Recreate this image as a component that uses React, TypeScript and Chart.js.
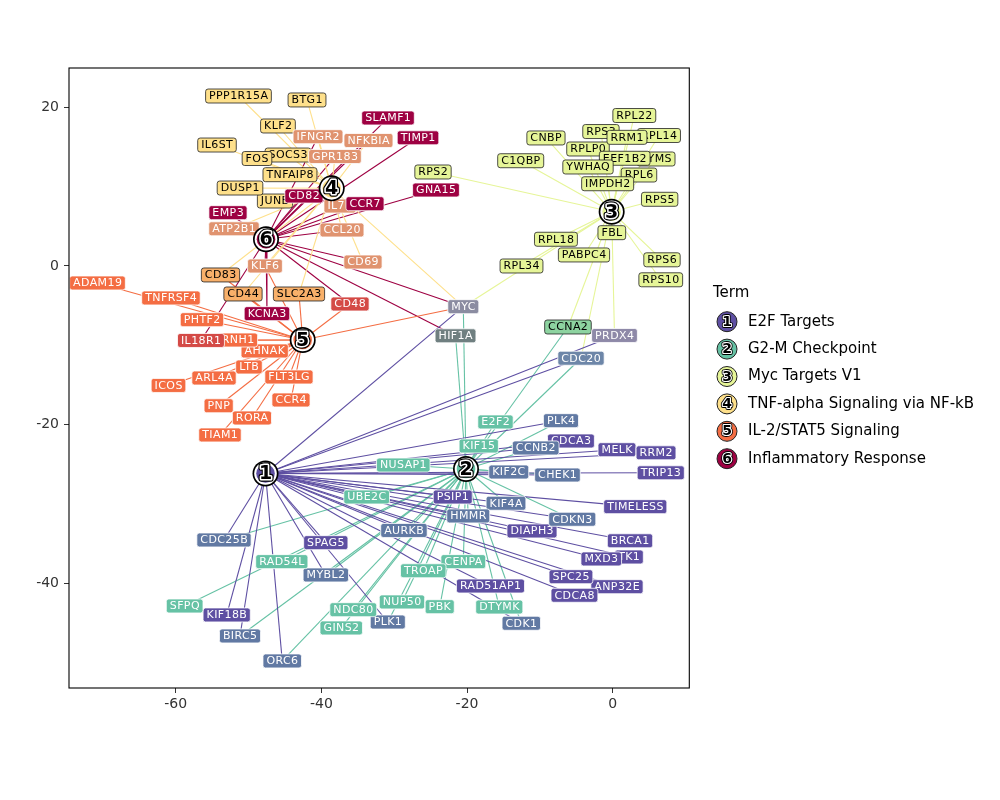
import React, { useEffect, useRef } from "react";
import { Chart, registerables } from "chart.js";
Chart.register(...registerables);

// ---- Terms ----
const termNames = [
  "E2F Targets",
  "G2-M Checkpoint",
  "Myc Targets V1",
  "TNF-alpha Signaling via NF-kB",
  "IL-2/STAT5 Signaling",
  "Inflammatory Response",
];
const termColors = ["#5E4FA2", "#66C2A5", "#E6F598", "#FEE08B", "#F46D43", "#9E0142"];
const termX = [-47.67, -20.14, -0.14, -38.58, -42.56, -47.6];
const termY = [-26.16, -25.59, 6.84, 9.79, -9.33, 3.37];

// ---- Genes (drawing order) ----
const geneNames = [
  "TK1", "MXD3", "ANP32E", "SPC25", "CDCA3", "CCNB2", "CENPA", "TROAP",
  "MELK", "RRM2", "TRIP13", "PSIP1", "TIMELESS", "DIAPH3", "BRCA1", "RAD51AP1",
  "CDCA8", "SPAG5", "KIF18B", "PLK4", "KIF2C", "CHEK1", "KIF4A", "HMMR",
  "AURKB", "CDKN3", "CDC25B", "MYBL2", "BIRC5", "ORC6", "CDK1", "PLK1",
  "E2F2", "KIF15", "NUSAP1", "UBE2C", "RAD54L", "SFPQ", "NUP50", "PBK",
  "NDC80", "GINS2", "DTYMK",
  "MYC", "HIF1A", "CCNA2", "PRDX4", "CDC20",
  "RPS3", "RPL14", "RPLP0", "TYMS", "RPL6", "RRM1", "EEF1B2", "YWHAQ",
  "IMPDH2", "RPL22", "CNBP", "C1QBP", "RPS5", "FBL", "RPL18", "PABPC4",
  "RPL34", "RPS6", "RPS10", "RPS2",
  "PPP1R15A", "BTG1", "KLF2", "IL6ST", "SOCS3", "FOS", "TNFAIP8", "JUNB",
  "DUSP1", "IFNGR2", "NFKBIA", "GPR183", "IL7R", "CCL20", "CD69", "KLF6",
  "ATP2B1", "CD83", "CD44", "SLC2A3", "SLAMF1", "TIMP1", "GNA15", "CCR7",
  "CD82", "EMP3", "KCNA3", "ADAM19", "TNFRSF4", "PHTF2", "AHNAK", "RNH1",
  "IL18R1", "CD48", "LTB", "ARL4A", "ICOS", "FLT3LG", "PNP", "CCR4",
  "RORA", "TIAM1",
];
const geneX = [
  2.24, -1.57, 0.59, -5.73, -5.73, -10.57, -20.51, -26.01,
  0.59, 5.95, 6.6, -21.96, 3.1, -11.08, 2.38, -16.78,
  -5.25, -39.39, -53.0, -7.1, -14.27, -7.58, -14.65, -19.83,
  -28.66, -5.55, -53.37, -39.39, -51.17, -45.37, -12.55, -30.88,
  -16.09, -18.39, -28.75, -33.78, -45.43, -58.77, -28.93, -23.75,
  -35.62, -37.27, -15.57,
  -20.51, -21.58, -6.14, 0.25, -4.35,
  -1.61, 6.36, -3.39, 5.95, 3.61, 1.96, 1.65, -3.39,
  -0.69, 2.97, -9.16, -12.63, 6.45, -0.12, -7.79, -3.94,
  -12.52, 6.77, 6.6, -24.67,
  -51.38, -41.97, -45.96, -54.33, -44.58, -48.84, -44.31, -46.37,
  -51.17, -40.46, -33.53, -38.13, -37.44, -37.17, -34.29, -47.74,
  -52.0, -53.85, -50.76, -43.07, -30.85, -26.73, -24.26, -34.01,
  -42.39, -52.82, -47.47, -70.74, -60.65, -56.39, -47.78, -51.45,
  -56.53, -36.07, -49.94, -54.74, -60.99, -44.45, -54.1, -44.17,
  -49.53, -53.92,
];
const geneY = [
  -36.68, -36.93, -40.43, -39.17, -22.06, -22.94, -37.27, -38.42,
  -23.16, -23.55, -26.07, -29.12, -30.34, -33.4, -34.64, -40.34,
  -41.51, -34.88, -43.99, -19.5, -25.97, -26.35, -29.91, -31.51,
  -33.34, -31.93, -34.54, -38.95, -46.64, -49.79, -45.04, -44.88,
  -19.66, -22.69, -25.09, -29.12, -37.27, -42.86, -42.35, -42.95,
  -43.33, -45.63, -42.99,
  -5.13, -8.8, -7.69, -8.76, -11.63,
  16.95, 16.45, 14.75, 13.49, 11.47, 16.22, 13.58, 12.48,
  10.37, 18.97, 16.14, 13.27, 8.41, 4.2, 3.37, 1.39,
  0.0, 0.78, -1.74, 11.85,
  21.43, 20.93, 17.65, 15.25, 13.99, 13.55, 11.51, 8.19,
  9.83, 16.3, 15.82, 13.8, 7.56, 4.54, 0.5, 0.0,
  4.69, -1.13, -3.53, -3.53, 18.66, 16.16, 9.58, 7.85,
  8.82, 6.72, -6.01, -2.14, -4.03, -6.77, -10.71, -9.33,
  -9.39, -4.79, -12.73, -14.12, -15.06, -13.99, -17.62, -16.89,
  -19.16, -21.3,
];
const geneTerms = [
  "1", "1", "1", "1", "1", "1,2", "2", "2",
  "1", "1", "1", "1", "1", "1", "1", "1",
  "1", "1", "1", "1,2", "1,2", "1,2", "1,2", "1,2",
  "1,2", "1,2", "1,2", "1,2", "1,2", "1,2", "1,2", "1,2",
  "2", "2", "2", "2", "2", "2", "2", "2",
  "2", "2", "2",
  "1,2,3,4,5,6", "2,6", "2,3", "1,3", "1,2,3",
  "3", "3", "3", "3", "3", "3", "3", "3",
  "3", "3", "3", "3", "3", "3", "3", "3",
  "3", "3", "3", "3",
  "4", "4", "4", "4", "4", "4", "4", "4",
  "4", "4,6", "4,6", "4,6", "4,6", "4,6", "4,6", "4,5,6",
  "4,6", "4,5", "4,5", "4,5", "6", "6", "6", "6",
  "6", "6", "6", "5", "5", "5", "5", "5",
  "5,6", "5,6", "5", "5", "5", "5", "5", "5",
  "5", "5",
];

// ---- Tick labels ----
const xTicks = [-60, -40, -20, 0];
const yTicks = [-40, -20, 0, 20];

// ---- Styles ----
const blendColors: Record<string, string> = {
  "1": "#5E4FA2",
  "2": "#66C2A5",
  "3": "#E6F598",
  "4": "#FEE08B",
  "5": "#F46D43",
  "6": "#9E0142",
  "1,2": "#6179A3",
  "4,6": "#E0936F",
  "4,5,6": "#E0936F",
  "4,5": "#F8B06A",
  "5,6": "#D44A46",
  "2,3": "#8DD3A0",
  "1,3": "#8E89A8",
  "1,2,3": "#6D86A8",
  "2,6": "#6F7F80",
  "1,2,3,4,5,6": "#8B8CA1",
};
const darkTextKeys = ["3", "4", "4,5", "2,3"];
const FONT = "'DejaVu Sans', 'Noto Sans', sans-serif";

function roundRect(ctx: CanvasRenderingContext2D, x: number, y: number, w: number, h: number, r: number) {
  ctx.beginPath();
  ctx.moveTo(x + r, y);
  ctx.lineTo(x + w - r, y);
  ctx.arcTo(x + w, y, x + w, y + r, r);
  ctx.lineTo(x + w, y + h - r);
  ctx.arcTo(x + w, y + h, x + w - r, y + h, r);
  ctx.lineTo(x + r, y + h);
  ctx.arcTo(x, y + h, x, y + h - r, r);
  ctx.lineTo(x, y + r);
  ctx.arcTo(x, y, x + r, y, r);
  ctx.closePath();
}

function drawDigit(ctx: CanvasRenderingContext2D, s: string, x: number, y: number, size: number) {
  ctx.save();
  ctx.font = `bold ${size}px ${FONT}`;
  ctx.textAlign = "center";
  ctx.textBaseline = "middle";
  ctx.lineJoin = "round";
  ctx.strokeStyle = "#000";
  ctx.lineWidth = size * 0.28;
  ctx.strokeText(s, x, y);
  ctx.strokeStyle = "#fff";
  ctx.lineWidth = size * 0.16;
  ctx.strokeText(s, x, y);
  ctx.fillStyle = "#000";
  ctx.fillText(s, x, y);
  ctx.restore();
}

export default function App() {
  const ref = useRef<HTMLCanvasElement>(null);
  useEffect(() => {
    document.body.style.margin = "0";
    const canvas = ref.current!;
    const datasets: any[] = [];
    termNames.forEach((_, t) => {
      geneNames.forEach((g, i) => {
        const ts = geneTerms[i].split(",").map(Number);
        if (ts.includes(t + 1)) {
          datasets.push({
            label: `${t + 1}-${g}`,
            data: [
              { x: termX[t], y: termY[t] },
              { x: geneX[i], y: geneY[i] },
            ],
            showLine: true,
            borderColor: termColors[t],
            borderWidth: 1.1,
            pointRadius: 0,
            pointHoverRadius: 0,
            fill: false,
          });
        }
      });
    });

    const overlay = {
      id: "overlay",
      afterDatasetsDraw(chart: any) {
        const ctx: CanvasRenderingContext2D = chart.ctx;
        const xs = chart.scales.x;
        const ys = chart.scales.y;
        // gene labels
        ctx.save();
        ctx.font = `11px ${FONT}`;
        (ctx as any).letterSpacing = "0.4px";
        ctx.textAlign = "center";
        ctx.textBaseline = "middle";
        geneNames.forEach((g, i) => {
          const cx = xs.getPixelForValue(geneX[i]);
          const cy = ys.getPixelForValue(geneY[i]);
          const key = geneTerms[i];
          const fill = blendColors[key] || "#888";
          const tc = darkTextKeys.includes(key) ? "#000000" : "#ffffff";
          const w = ctx.measureText(g).width + 6.5;
          const h = 14;
          roundRect(ctx, cx - w / 2, cy - h / 2, w, h, 2.5);
          ctx.fillStyle = fill;
          ctx.fill();
          ctx.strokeStyle = tc === "#000000" ? "#222" : "#ffffff";
          ctx.lineWidth = 0.8;
          ctx.stroke();
          ctx.fillStyle = tc;
          ctx.fillText(g, cx + 0.2, cy + 0.5);
        });
        ctx.restore();
        // term nodes
        termNames.forEach((_, t) => {
          const px = xs.getPixelForValue(termX[t]);
          const py = ys.getPixelForValue(termY[t]);
          ctx.save();
          ctx.beginPath();
          ctx.arc(px, py, 13, 0, Math.PI * 2);
          ctx.fillStyle = "#000";
          ctx.fill();
          ctx.beginPath();
          ctx.arc(px, py, 11.3, 0, Math.PI * 2);
          ctx.fillStyle = "#fff";
          ctx.fill();
          ctx.beginPath();
          ctx.arc(px, py, 9.3, 0, Math.PI * 2);
          ctx.fillStyle = termColors[t];
          ctx.fill();
          ctx.restore();
          drawDigit(ctx, String(t + 1), px, py + 1, 19);
        });
        // panel border
        const a = chart.chartArea;
        ctx.save();
        ctx.strokeStyle = "#000";
        ctx.lineWidth = 1.1;
        ctx.strokeRect(a.left, a.top, a.right - a.left, a.bottom - a.top);
        ctx.restore();
      },
      afterDraw(chart: any) {
        const ctx: CanvasRenderingContext2D = chart.ctx;
        ctx.save();
        ctx.fillStyle = "#000";
        ctx.textAlign = "left";
        ctx.textBaseline = "middle";
        ctx.font = `15px ${FONT}`;
        ctx.fillText("Term", 713, 293);
        termNames.forEach((n, t) => {
          const y = 321.7 + t * 27.4;
          ctx.beginPath();
          ctx.arc(727, y, 10, 0, Math.PI * 2);
          ctx.fillStyle = termColors[t];
          ctx.fill();
          ctx.strokeStyle = "#222";
          ctx.lineWidth = 1;
          ctx.stroke();
          drawDigit(ctx, String(t + 1), 727, y + 0.5, 14);
          ctx.fillStyle = "#000";
          ctx.font = `15px ${FONT}`;
          ctx.textAlign = "left";
          ctx.textBaseline = "middle";
          ctx.fillText(n, 748, y);
        });
        ctx.restore();
      },
    };

    const chart = new Chart(canvas, {
      type: "scatter",
      data: { datasets },
      options: {
        animation: false,
        responsive: false,
        events: [],
        layout: { padding: { left: 0, right: 310.7, top: 68, bottom: 0 } },
        plugins: { legend: { display: false }, tooltip: { enabled: false } },
        scales: {
          x: {
            type: "linear",
            min: -74.65,
            max: 10.52,
            afterBuildTicks: (s: any) => {
              s.ticks = xTicks.map((v) => ({ value: v }));
            },
            afterFit: (s: any) => {
              s.height = 112;
            },
            ticks: {
              callback: (v: any) => String(v),
              font: { family: FONT, size: 14 },
              color: "#333",
              padding: 3,
              maxRotation: 0,
            },
            grid: { display: true, drawOnChartArea: false, drawTicks: true, tickLength: 5, color: "#333", lineWidth: 1 },
            border: { display: false },
          },
          y: {
            type: "linear",
            min: -53.2,
            max: 24.96,
            afterBuildTicks: (s: any) => {
              s.ticks = yTicks.map((v) => ({ value: v }));
            },
            afterFit: (s: any) => {
              s.width = 69;
            },
            ticks: {
              callback: (v: any) => String(v),
              font: { family: FONT, size: 14 },
              color: "#333",
              padding: 5,
            },
            grid: { display: true, drawOnChartArea: false, drawTicks: true, tickLength: 5, color: "#333", lineWidth: 1 },
            border: { display: false },
          },
        },
      },
      plugins: [overlay],
    } as any);
    return () => chart.destroy();
  }, []);
  return <canvas ref={ref} width={1000} height={800} style={{ display: "block" }} />;
}
